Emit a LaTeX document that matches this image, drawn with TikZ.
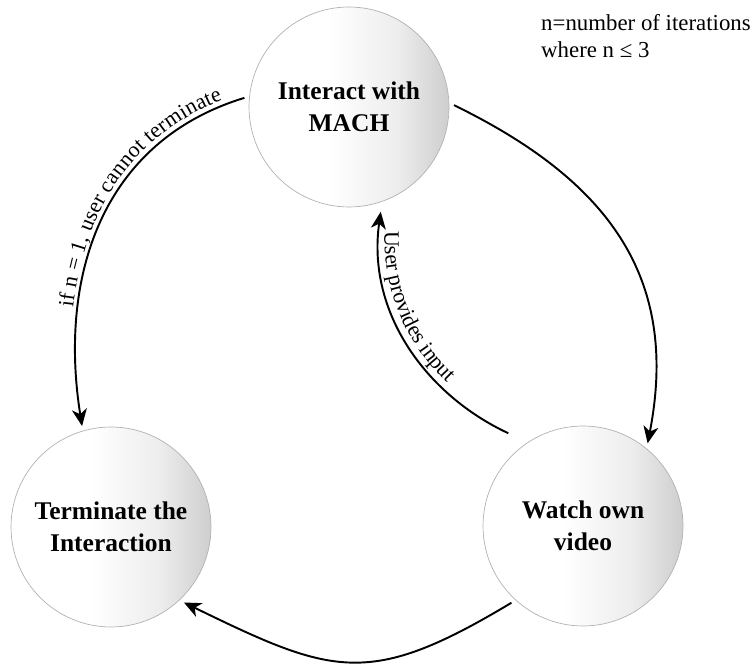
\documentclass[tikz,border=0pt]{standalone}
\usepackage{fontspec}
\setmainfont{Liberation Serif}
\usetikzlibrary{arrows.meta,decorations.text}
\pgfdeclarehorizontalshading{ballgrey}{100bp}{color(0bp)=(white); color(45bp)=(white); color(62bp)=(black!7); color(80bp)=(black!24); color(88bp)=(black!26); color(100bp)=(black!15)}
\begin{document}
\begin{tikzpicture}[x=0.02cm,y=0.02cm,
    stage/.style={circle,minimum size=4cm,outer sep=0.1cm,draw=black!30,thin,shade,shading=ballgrey,
      align=center,font=\bfseries\fontsize{14.5}{18.2}\selectfont},
    flow/.style={line width=1.1pt,-{Stealth[length=0.34cm,width=0.3cm,inset=0.1cm]}}]
    \useasboundingbox (0,0) rectangle (756,671);
    \node[stage] (mach) at (349,564) {Interact with\\MACH};
    \node[stage] (watch) at (583,145) {Watch own\\video};
    \node[stage] (term) at (111,144) {Terminate the\\Interaction};
    \node[anchor=base west,align=left,font=\fontsize{13}{15.5}\selectfont] (note) at (535,613) {n=number of iterations\\where n ≤ 3};
    \draw[flow] (mach.1) to[out=-26,in=79,looseness=1.12] (watch.52);
    \draw[flow] (watch.227) to[out=211,in=-26,looseness=1.3] (term.314);
    \draw[flow] (mach.175) to[out=197,in=99,looseness=1.05] (term.106);
    \draw[flow,shorten <=0.32cm,shorten >=0.1cm] (watch.125) to[out=155,in=-98] (mach.-72);
    \path[decorate,decoration={text along path,raise=3pt,text align={right,right indent=12pt},
      text={|\fontsize{12.5}{14}\selectfont|if n = 1, user cannot terminate}}] (term.106) to[out=99,in=197,looseness=1.05] (mach.175);
    \path[decorate,decoration={text along path,raise=3pt,text align={left,left indent=14pt},
      text={|\fontsize{12.5}{14}\selectfont|User provides input}}] (mach.-72) to[out=-98,in=155] (watch.125);
\end{tikzpicture}
\end{document}
